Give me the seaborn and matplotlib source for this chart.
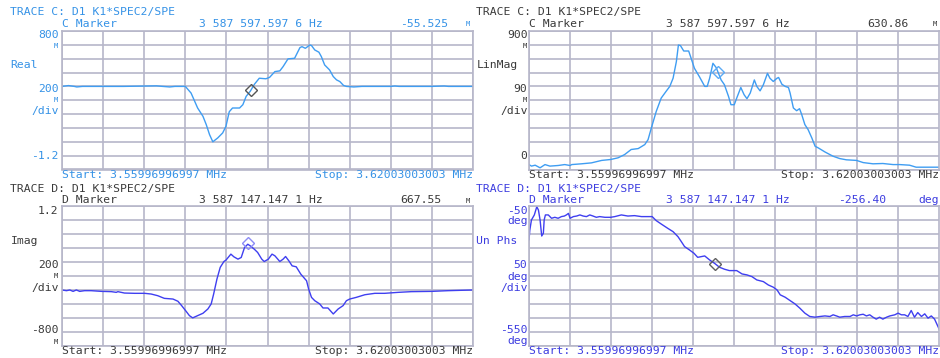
import numpy as np
import pandas as pd
import matplotlib
matplotlib.use("Agg")
import matplotlib.pyplot as plt
import seaborn as sns

# ---------------- data ----------------
START_MHZ = 3.55996996997
STOP_MHZ = 3.62003003003

real_freq = [3.55997, 3.56093, 3.56177, 3.56213, 3.56297, 3.56898, 3.57378, 3.57468, 3.57571, 3.57649,
             3.57799, 3.57883, 3.57979, 3.58057, 3.58105, 3.58153, 3.58201, 3.58273, 3.58345, 3.58393,
             3.58441, 3.58489, 3.58592, 3.58640, 3.58688, 3.58748, 3.58808, 3.58880, 3.58976, 3.59030,
             3.59108, 3.59180, 3.59228, 3.59300, 3.59396, 3.59474, 3.59504, 3.59553, 3.59619, 3.59643,
             3.59691, 3.59751, 3.59787, 3.59835, 3.59907, 3.59961, 3.60009, 3.60057, 3.60111, 3.60153,
             3.60261, 3.60381, 3.60802, 3.60862, 3.60922, 3.61402, 3.61583, 3.61643, 3.62003]
real_val = [0.0, 0.012, 0.0, -0.008, 0.0, 0.0, 0.008, 0.0, -0.008, 0.0,
            0.0, -0.096, -0.312, -0.432, -0.552, -0.696, -0.80, -0.744, -0.672, -0.576,
            -0.366, -0.312, -0.312, -0.264, -0.144, -0.07, 0.03, 0.118, 0.11, 0.13,
            0.214, 0.224, 0.286, 0.398, 0.406, 0.56, 0.574, 0.55, 0.598, 0.59,
            0.526, 0.494, 0.43, 0.31, 0.238, 0.142, 0.094, 0.07, 0.014, 0.0,
            -0.008, 0.0, 0.0, 0.006, 0.0, 0.0, 0.006, 0.0, 0.0]

mag_freq = [3.55997, 3.56033, 3.56087, 3.56159, 3.56231, 3.56303, 3.56423, 3.56520, 3.56598, 3.56622,
            3.56766, 3.56910, 3.57060, 3.57192, 3.57300, 3.57396, 3.57492, 3.57595, 3.57691, 3.57739,
            3.57787, 3.57859, 3.57931, 3.58003, 3.58057, 3.58105, 3.58153, 3.58183, 3.58213, 3.58261,
            3.58333, 3.58369, 3.58417, 3.58489, 3.58568, 3.58604, 3.58640, 3.58688, 3.58736, 3.58808,
            3.58856, 3.58916, 3.58952, 3.59000, 3.59036, 3.59096, 3.59144, 3.59186, 3.59234, 3.59294,
            3.59330, 3.59378, 3.59426, 3.59486, 3.59522, 3.59571, 3.59625, 3.59649, 3.59697, 3.59745,
            3.59793, 3.59817, 3.59865, 3.59913, 3.59955, 3.59985, 3.60033, 3.60081, 3.60135, 3.60183,
            3.60231, 3.60327, 3.60399, 3.60447, 3.60544, 3.60640, 3.60790, 3.60886, 3.61030, 3.61174,
            3.61324, 3.61420, 3.61565, 3.61661, 3.61859, 3.62003]
mag_val = [0.032, 0.022, 0.028, 0.011, 0.032, 0.022, 0.026, 0.032, 0.026, 0.032,
           0.037, 0.043, 0.059, 0.065, 0.076, 0.097, 0.130, 0.136, 0.162, 0.194,
           0.27, 0.378, 0.464, 0.508, 0.54, 0.593, 0.701, 0.809, 0.805, 0.770,
           0.770, 0.723, 0.658, 0.604, 0.54, 0.54, 0.593, 0.690, 0.662, 0.582,
           0.551, 0.475, 0.421, 0.421, 0.464, 0.533, 0.486, 0.460, 0.497, 0.582,
           0.54, 0.511, 0.551, 0.625, 0.593, 0.572, 0.593, 0.598, 0.554, 0.54,
           0.533, 0.497, 0.400, 0.382, 0.395, 0.36, 0.292, 0.259, 0.205, 0.151,
           0.140, 0.114, 0.097, 0.086, 0.071, 0.063, 0.059, 0.045, 0.037, 0.039,
           0.032, 0.032, 0.028, 0.015, 0.015, 0.015]

imag_freq = [3.55997, 3.56063, 3.56111, 3.56159, 3.56207, 3.56255, 3.56327, 3.56423, 3.56574, 3.56718,
             3.56790, 3.56814, 3.56910, 3.57060, 3.57204, 3.57300, 3.57396, 3.57492, 3.57619, 3.57691,
             3.57745, 3.57811, 3.57859, 3.57907, 3.57979, 3.58057, 3.58129, 3.58177, 3.58213, 3.58261,
             3.58309, 3.58363, 3.58393, 3.58465, 3.58508, 3.58568, 3.58616, 3.58664, 3.58712, 3.58748,
             3.58808, 3.58856, 3.58916, 3.58952, 3.59012, 3.59066, 3.59108, 3.59180, 3.59228, 3.59264,
             3.59312, 3.59360, 3.59420, 3.59486, 3.59571, 3.59601, 3.59643, 3.59691, 3.59763, 3.59811,
             3.59883, 3.59961, 3.60033, 3.60105, 3.60153, 3.60201, 3.60297, 3.60423, 3.60568, 3.60712,
             3.60910, 3.61102, 3.61396, 3.61637, 3.62003]
imag_val = [-0.004, -0.014, -0.004, -0.024, -0.004, -0.024, -0.014, -0.014, -0.024, -0.028,
            -0.038, -0.028, -0.048, -0.052, -0.052, -0.062, -0.086, -0.124, -0.134, -0.166,
            -0.228, -0.31, -0.372, -0.404, -0.372, -0.338, -0.276, -0.204, -0.062, 0.152,
            0.32, 0.404, 0.424, 0.51, 0.472, 0.438, 0.462, 0.604, 0.652, 0.628,
            0.58, 0.534, 0.438, 0.404, 0.438, 0.51, 0.486, 0.404, 0.438, 0.476,
            0.414, 0.342, 0.328, 0.224, 0.128, 0.01, -0.11, -0.158, -0.204, -0.262,
            -0.262, -0.348, -0.276, -0.228, -0.158, -0.134, -0.11, -0.072, -0.052, -0.052,
            -0.038, -0.028, -0.024, -0.014, -0.004]

phase_freq = [3.55997, 3.56009, 3.56033, 3.56075, 3.56111, 3.56135, 3.56159, 3.56183, 3.56207, 3.56219,
              3.56237, 3.56279, 3.56327, 3.56375, 3.56423, 3.56471, 3.56514, 3.56544, 3.56574, 3.56598,
              3.56646, 3.56694, 3.56742, 3.56790, 3.56838, 3.56886, 3.56934, 3.56982, 3.57030, 3.57108,
              3.57192, 3.57252, 3.57348, 3.57444, 3.57541, 3.57643, 3.57799, 3.57859, 3.57931, 3.58027,
              3.58105, 3.58177, 3.58225, 3.58273, 3.58345, 3.58411, 3.58465, 3.58568, 3.58640, 3.58712,
              3.58784, 3.58856, 3.58928, 3.59036, 3.59114, 3.59186, 3.59258, 3.59330, 3.59426, 3.59498,
              3.59571, 3.59625, 3.59673, 3.59745, 3.59817, 3.59889, 3.59961, 3.60033, 3.60105, 3.60183,
              3.60255, 3.60327, 3.60399, 3.60447, 3.60495, 3.60544, 3.60616, 3.60694, 3.60742, 3.60790,
              3.60838, 3.60886, 3.60934, 3.60982, 3.61030, 3.61078, 3.61126, 3.61174, 3.61229, 3.61277,
              3.61349, 3.61397, 3.61445, 3.61493, 3.61541, 3.61589, 3.61637, 3.61685, 3.61739, 3.61787,
              3.61835, 3.61883, 3.61931, 3.62003]
phase_val = [-171.5, -136, -100, -82, -52.5, -64.5, -100, -157.5, -148, -100,
             -82, -82, -94, -90.5, -94, -88, -86, -82, -76.5, -94,
             -88, -86, -82, -86, -88, -82, -86, -90.5, -88, -90.5,
             -90.5, -88, -82, -86, -84.5, -88, -88, -102.5, -114.5, -130,
             -142, -160, -177.5, -195.5, -207.5, -219.5, -234, -229, -243.5, -255.5,
             -269.5, -276.5, -281.5, -281.5, -293.5, -297, -303, -315, -321, -333,
             -341, -350.5, -368.5, -377, -389, -401, -416.5, -434, -446, -448.5,
             -446, -444, -446, -440, -444, -448.5, -446, -446, -440, -444,
             -440, -438, -444, -440, -448.5, -455.5, -448.5, -455.5, -448.5, -444,
             -440, -434, -440, -440, -446, -424.5, -448.5, -432, -446, -436.5,
             -452, -444, -455.5, -494]

marker_freq = [3.5875975976, 3.5875975976, 3.5871471471, 3.5871471471]
marker_val = [-0.055525, 0.63086, 0.66755, -256.40]

# ---------------- style ----------------
sns.set_style("white")
plt.rcParams["font.family"] = ["DejaVu Sans Mono", "DejaVu Sans"]

W, H = 940, 358
fig = plt.figure(figsize=(W / 100, H / 100), dpi=100)
fig.patch.set_facecolor("white")

GRID = "#b6b6c9"
LIGHT = "#3f9df2"
LIGHT_TXT = "#3592e6"
DARK_TXT = "#3a3a3a"
VIOLET = "#3f3ff0"
VIOLET_TXT = "#3d3de0"
FS = 8.2
FS_SMALL = 5.2


def make_axes(l, t, r, b, ylo, yhi):
    ax = fig.add_axes([l / W, 1 - b / H, (r - l) / W, (b - t) / H])
    ax.set_facecolor("white")
    ax.set_xlim(START_MHZ, STOP_MHZ)
    ax.set_ylim(ylo, yhi)
    ax.set_xticks(np.linspace(START_MHZ, STOP_MHZ, 11))
    ax.set_yticks(np.linspace(ylo, yhi, 11))
    ax.grid(True, color=GRID, lw=1.2)
    ax.set_axisbelow(True)
    ax.tick_params(labelbottom=False, labelleft=False, length=0)
    for s in ax.spines.values():
        s.set_color(GRID)
        s.set_linewidth(1.2)
    return ax


def txt(x, y, s, color, ha="left", size=FS):
    fig.text(x / W, 1 - y / H, s, ha=ha, va="center", fontsize=size, color=color)


panels = [
    # left, top, right, bottom, ylo, yhi, freq, val, line color, marker color
    (62, 31, 473, 169.5, -1.2, 0.8, real_freq, real_val, LIGHT, "#555555"),
    (529, 31, 939.5, 169.5, 0.0, 0.9, mag_freq, mag_val, LIGHT, "#5aaaf5"),
    (62, 206, 473, 345.5, -0.8, 1.2, imag_freq, imag_val, VIOLET, "#8c8cf5"),
    (529, 206, 939.5, 345.5, -550, -50, phase_freq, phase_val, VIOLET, "#606060"),
]

for i, (l, t, r, b, ylo, yhi, fx, fy, lc, mc) in enumerate(panels):
    ax = make_axes(l, t, r, b, ylo, yhi)
    df = pd.DataFrame({"freq": fx, "val": fy})
    sns.lineplot(data=df, x="freq", y="val", ax=ax, color=lc, lw=1.0,
                 estimator=None, sort=False)
    ax.plot([marker_freq[i]], [marker_val[i]], marker="D", ms=6.5, mfc="none",
            mec=mc, mew=1.0, ls="none")
    ax.set_xlabel("")
    ax.set_ylabel("")

# ---------------- texts ----------------
# top-left
c = LIGHT_TXT
txt(10, 12.5, "TRACE C: D1 K1*SPEC2/SPE", c)
txt(62, 23.8, "C Marker", c)
txt(199, 23.8, "3 587 597.597 6 Hz", c)
txt(400, 23.8, "-55.525", c)
txt(470, 24.5, "M", c, ha="right", size=FS_SMALL)
txt(58.5, 34.5, "800", c, ha="right")
txt(58.5, 46, "M", c, ha="right", size=FS_SMALL)
txt(10, 65.5, "Real", c)
txt(58.5, 88.5, "200", c, ha="right")
txt(58.5, 99.5, "M", c, ha="right", size=FS_SMALL)
txt(59, 111, "/div", c, ha="right")
txt(58.5, 155.5, "-1.2", c, ha="right")
txt(62, 174.5, "Start: 3.55996996997 MHz", c)
txt(473, 174.5, "Stop: 3.62003003003 MHz", c, ha="right")

# top-right
c = DARK_TXT
txt(476.5, 12.5, "TRACE C: D1 K1*SPEC2/SPE", c)
txt(529, 23.8, "C Marker", c)
txt(666, 23.8, "3 587 597.597 6 Hz", c)
txt(867, 23.8, "630.86", c)
txt(937, 24.5, "M", c, ha="right", size=FS_SMALL)
txt(527.5, 34.5, "900", c, ha="right")
txt(527.5, 46, "M", c, ha="right", size=FS_SMALL)
txt(476.5, 65.5, "LinMag", c)
txt(527.5, 88.5, "90", c, ha="right")
txt(527.5, 99.5, "M", c, ha="right", size=FS_SMALL)
txt(528, 111, "/div", c, ha="right")
txt(527.5, 155.5, "0", c, ha="right")
txt(529, 174.5, "Start: 3.55996996997 MHz", c)
txt(939.5, 174.5, "Stop: 3.62003003003 MHz", c, ha="right")

# bottom-left
c = DARK_TXT
txt(10, 189, "TRACE D: D1 K1*SPEC2/SPE", c)
txt(62, 200.2, "D Marker", c)
txt(199, 200.2, "3 587 147.147 1 Hz", c)
txt(400, 200.2, "667.55", c)
txt(470, 201, "M", c, ha="right", size=FS_SMALL)
txt(58.5, 210.5, "1.2", c, ha="right")
txt(10.5, 240.5, "Imag", c)
txt(58.5, 265, "200", c, ha="right")
txt(58.5, 276, "M", c, ha="right", size=FS_SMALL)
txt(59, 287.5, "/div", c, ha="right")
txt(58.5, 330, "-800", c, ha="right")
txt(58.5, 341.5, "M", c, ha="right", size=FS_SMALL)
txt(62, 350.5, "Start: 3.55996996997 MHz", c)
txt(473, 350.5, "Stop: 3.62003003003 MHz", c, ha="right")

# bottom-right
c = VIOLET_TXT
txt(476.5, 189, "TRACE D: D1 K1*SPEC2/SPE", c)
txt(529, 200.2, "D Marker", c)
txt(666, 200.2, "3 587 147.147 1 Hz", c)
txt(838, 200.2, "-256.40", c)
txt(939, 200.2, "deg", c, ha="right")
txt(527.5, 210.5, "-50", c, ha="right")
txt(527.5, 221, "deg", c, ha="right")
txt(476.5, 240.5, "Un Phs", c)
txt(527.5, 265, "50", c, ha="right")
txt(527.5, 276.5, "deg", c, ha="right")
txt(528, 287.5, "/div", c, ha="right")
txt(527.5, 330, "-550", c, ha="right")
txt(527.5, 341.5, "deg", c, ha="right")
txt(529, 350.5, "Start: 3.55996996997 MHz", c)
txt(939.5, 350.5, "Stop: 3.62003003003 MHz", c, ha="right")

fig.savefig("out.png", dpi=100, facecolor="white")
